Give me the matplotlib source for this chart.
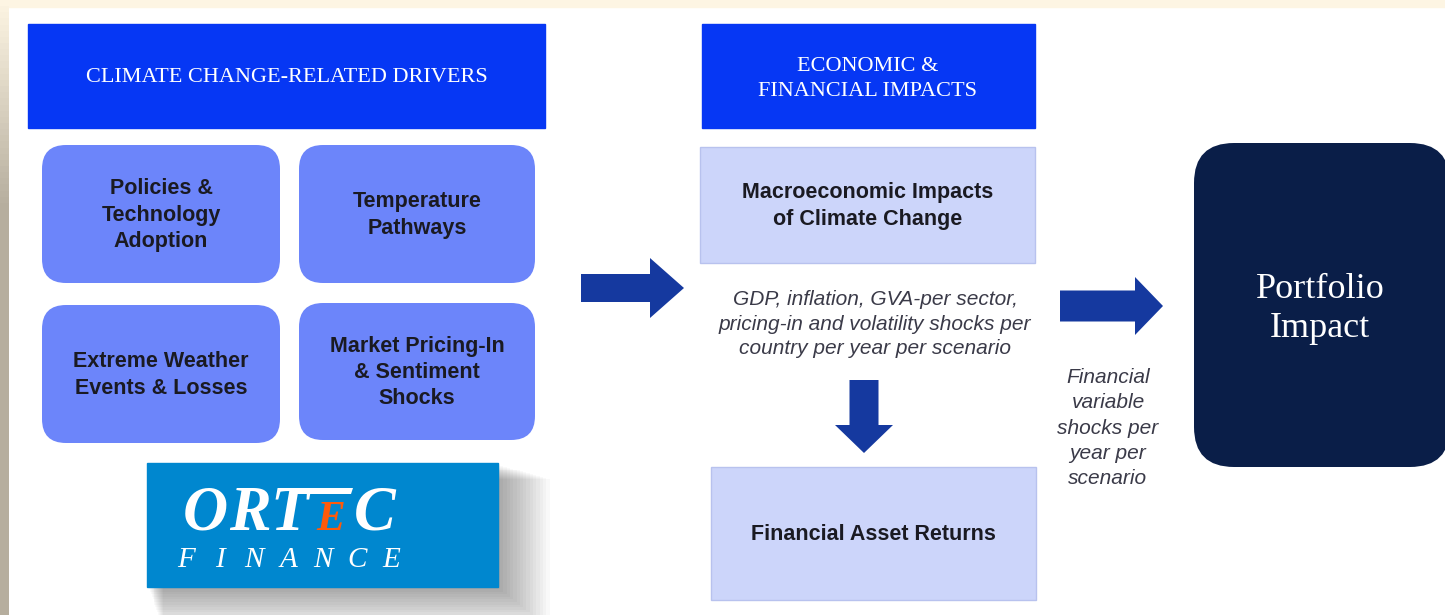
import matplotlib
matplotlib.use("Agg")
import matplotlib.pyplot as plt
import numpy as np
from matplotlib.patches import FancyBboxPatch, Rectangle, FancyArrow, Polygon

# text content of the diagram
driver_header = "CLIMATE CHANGE-RELATED DRIVERS"
impact_header = "ECONOMIC &\nFINANCIAL IMPACTS"
driver_labels = [
    "Policies &\nTechnology\nAdoption",
    "Temperature\nPathways",
    "Extreme Weather\nEvents & Losses",
    "Market Pricing-In\n& Sentiment\nShocks",
]
macro_label = "Macroeconomic Impacts\nof Climate Change"
macro_note = "GDP, inflation, GVA-per sector,\npricing-in and volatility shocks per\ncountry per year per scenario"
asset_label = "Financial Asset Returns"
shock_note = "Financial\nvariable\nshocks per\nyear per\nscenario"
portfolio_label = "Portfolio\nImpact"
logo_top = ["O", "R", "T", "E", "C"]
logo_bottom = "FINANCE"

HEADER_BLUE = "#0637f4"
DRIVER_BLUE = "#6c85fa"
LIGHT_BLUE = "#ccd5fa"
ARROW_BLUE = "#15399f"
NAVY = "#0a1e48"
LOGO_BLUE = "#0087cf"
ORANGE = "#ff5a0a"
TEXT_DARK = "#1a1a22"
TEXT_GREY = "#3a3a48"

W, H = 1445, 615
fig = plt.figure(figsize=(W / 100, H / 100), dpi=100)
ax = fig.add_axes([0, 0, 1, 1])

# frame: cream strip on top, tan strip on the left
ax.add_patch(Rectangle((0, 0), W, 7, color="#fdf5e3", zorder=1))
grad = np.linspace(0, 1, 100)[:, None]
cream = np.array([253, 245, 227]) / 255
tan = np.array([182, 174, 158]) / 255
strip = cream + (tan - cream) * np.clip(grad * 3, 0, 1)[:, :, None]
ax.imshow(strip, extent=(0, 9, H, 0), aspect="auto", zorder=1)
ax.set_xlim(0, W)
ax.set_ylim(H, 0)
ax.axis("off")

sans = "Liberation Sans"
serif = "Liberation Serif"

# headers
ax.add_patch(Rectangle((28, 24), 517, 104, color=HEADER_BLUE, zorder=2))
ax.text(287, 77, driver_header, color="white", fontsize=16, family=serif,
        ha="center", va="center", zorder=3)
ax.add_patch(Rectangle((702, 24), 333, 104, color=HEADER_BLUE, zorder=2))
ax.text(868, 79, impact_header, color="white", fontsize=16, family=serif,
        ha="center", va="center", linespacing=1.4, zorder=3)

# driver boxes
boxes = [(42, 145, 238, 138), (299, 145, 236, 138), (42, 305, 238, 138), (299, 303, 236, 137)]
for (x, y, w, h), label in zip(boxes, driver_labels):
    ax.add_patch(FancyBboxPatch((x, y), w, h, boxstyle="round,pad=0,rounding_size=24",
                                facecolor=DRIVER_BLUE, edgecolor="none", zorder=2))
    ax.text(x + w / 2, y + h / 2 + 1, label, color=TEXT_DARK, fontsize=15.5, family=sans,
            weight="bold", ha="center", va="center", linespacing=1.34, zorder=3)

# logo with soft shadow
for i in range(16):
    ax.add_patch(Rectangle((147 + 2 + i * 0.9, 463 + 2 + i * 0.9), 351 + i * 2.4, 124 + i * 1.7,
                           color="black", alpha=0.022, lw=0, zorder=2))
ax.add_patch(Rectangle((147, 463), 351, 124, color=LOGO_BLUE, zorder=3))
top_x = [205, 250, 290, 331, 375]
for ch, xc in zip(logo_top, top_x):
    is_e = ch == "E"
    ax.text(xc, 530, ch, color=ORANGE if is_e else "white", family=serif,
            fontsize=31 if is_e else 45, weight="bold", style="italic",
            ha="center", va="baseline", zorder=4)
# extended crossbar of the T over the E
ax.add_patch(Polygon([(295, 488), (353, 488), (351, 494), (293, 494)], closed=True,
                     color="white", lw=0, zorder=4))
for ch, xc in zip(logo_bottom, np.linspace(186, 391, len(logo_bottom))):
    ax.text(xc, 567, ch, color="white", family=serif, fontsize=21, style="italic",
            ha="center", va="baseline", zorder=4)

# arrows
ax.add_patch(FancyArrow(581, 288, 103, 0, width=28, head_width=60, head_length=34,
                        length_includes_head=True, color=ARROW_BLUE, lw=0, zorder=2))
ax.add_patch(FancyArrow(864, 380, 0, 73, width=29, head_width=58, head_length=28,
                        length_includes_head=True, color=ARROW_BLUE, lw=0, zorder=2))
ax.add_patch(FancyArrow(1060, 306, 103, 0, width=31, head_width=58, head_length=28,
                        length_includes_head=True, color=ARROW_BLUE, lw=0, zorder=2))

# middle column
ax.add_patch(Rectangle((700, 147), 335, 116, facecolor=LIGHT_BLUE, edgecolor="#b8c2ee",
                       lw=1, zorder=2))
ax.text(868, 206, macro_label, color=TEXT_DARK, fontsize=15.5, family=sans, weight="bold",
        ha="center", va="center", linespacing=1.34, zorder=3)
ax.text(875, 324, macro_note, color=TEXT_GREY, fontsize=15, family=sans, style="italic",
        ha="center", va="center", linespacing=1.37, zorder=3)
ax.add_patch(Rectangle((711, 467), 325, 133, facecolor=LIGHT_BLUE, edgecolor="#b8c2ee",
                       lw=1, zorder=2))
ax.text(873, 534, asset_label, color=TEXT_DARK, fontsize=15.5, family=sans, weight="bold",
        ha="center", va="center", zorder=3)

# right column
ax.text(1108, 428, shock_note, color=TEXT_GREY, fontsize=15, family=sans, style="italic",
        ha="center", va="center", linespacing=1.43, zorder=3)
ax.add_patch(FancyBboxPatch((1194, 143), 256, 324, boxstyle="round,pad=0,rounding_size=40",
                            facecolor=NAVY, edgecolor="none", zorder=2))
ax.text(1320, 309, portfolio_label, color="white", fontsize=26, family=serif,
        ha="center", va="center", linespacing=1.25, zorder=3)

fig.savefig("out.png", dpi=100)
plt.close(fig)
